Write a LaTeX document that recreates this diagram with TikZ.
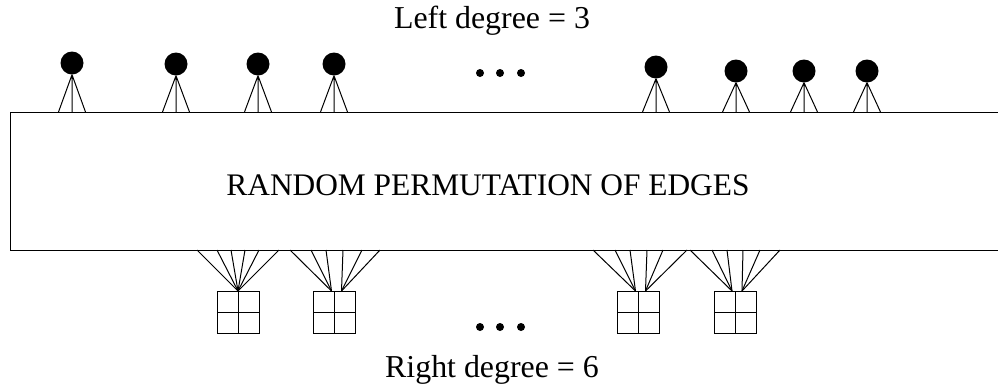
\documentclass[tikz,border=0pt]{standalone}
\usepackage{fontspec}
\setmainfont{Liberation Serif}
\usetikzlibrary{calc}
\begin{document}
\begin{tikzpicture}[x=1bp,y=-1bp,
  ln/.style={line width=1bp,black},
  ball/.style={circle,fill=black,minimum size=23bp,inner sep=0pt},
  dotc/.style={circle,fill=black,minimum size=8bp,inner sep=0pt},
  cell/.style={draw,line width=1bp,minimum size=42bp,inner sep=0pt,
    path picture={\draw[line width=1bp] (path picture bounding box.north) -- (path picture bounding box.south)
      (path picture bounding box.west) -- (path picture bounding box.east);}},
  lbl/.style={font=\fontsize{32}{38}\selectfont,inner sep=0pt},
  mlbl/.style={font=\fontsize{31.5}{38}\selectfont,inner sep=0pt}]
\useasboundingbox (0,0) rectangle (998,383);
\begin{scope}
\clip (0,0) rectangle (998,383);
\draw[ln] (10,112) rectangle (1010,250);
\end{scope}
\node[mlbl,anchor=base] (main) at (488,195) {RANDOM PERMUTATION OF EDGES};
\node[lbl,anchor=base] (ltop) at (492,28) {Left degree = 3};
\node[lbl,anchor=base] (rbot) at (492,377) {Right degree = 6};
% left nodes
\foreach \n/\x/\y in {1/72/63,2/176/64,3/258/64,4/334/64,5/656/67,6/736/71,7/804/71,8/867/71}{
  \node[ball] (b\n) at (\x,\y) {};
  \coordinate (bl\n) at (\x-13.5,112);
  \coordinate (bm\n) at (\x,112);
  \coordinate (br\n) at (\x+13.5,112);
  \draw[ln] (b\n.south) -- (bl\n) (b\n.south) -- (bm\n) (b\n.south) -- (br\n);
}
% dots
\foreach \i/\x in {1/480,2/500,3/521}{
  \node[dotc] (dt\i) at (\x,73) {};
  \node[dotc] (db\i) at (\x,327) {};
}
% right nodes
\foreach \n/\x in {1/238,2/334.5,3/638.5,4/735}{
  \node[cell] (s\n) at (\x,312.5) {};
}
\foreach \n/\la/\lb/\lc/\ld/\le/\lf/\dl/\dr in {
  1/197/217/231/245/259/279/0/0,
  2/290/311/326/343/362/380/-3/7,
  3/593/615/630/647/663/687/-3/7,
  4/690/712/727/743/760/780/-3/7}{
  \coordinate (sl\n) at ($(s\n.north)+(\dl,0)$);
  \coordinate (sr\n) at ($(s\n.north)+(\dr,0)$);
  \foreach \k/\xx in {a/\la,b/\lb,c/\lc}{
    \coordinate (t\n\k) at (\xx,250);
    \draw[ln] (t\n\k) -- (sl\n);
  }
  \foreach \k/\xx in {d/\ld,e/\le,f/\lf}{
    \coordinate (t\n\k) at (\xx,250);
    \draw[ln] (t\n\k) -- (sr\n);
  }
}
\end{tikzpicture}
\end{document}
